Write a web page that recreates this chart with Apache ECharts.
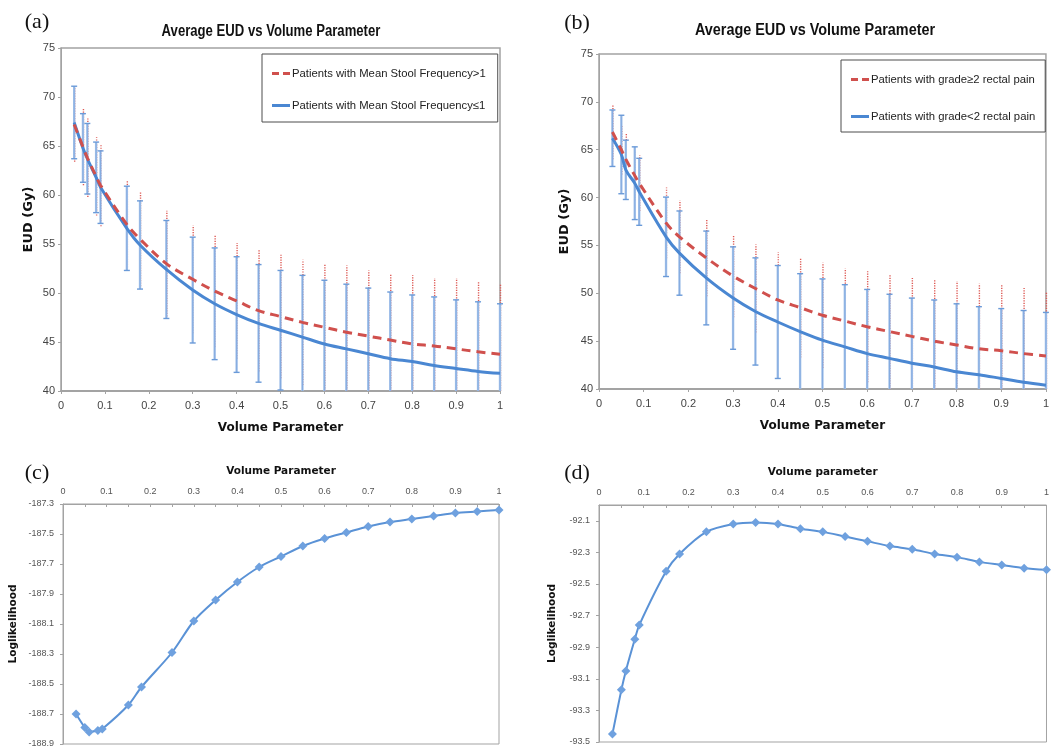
<!DOCTYPE html>
<html>
<head>
<meta charset="utf-8">
<script src="https://cdn.jsdelivr.net/npm/echarts@6/dist/echarts.min.js"></script>
<style>
  html, body { margin: 0; padding: 0; background: #fff; overflow: hidden; }
  #chart { width: 1052px; height: 749px; }
</style>
</head>
<body>
<div id="chart"></div>
<script>
// Volume parameter values (n) used for every curve
const volumeParam = [0.03, 0.05, 0.06, 0.08, 0.09, 0.15, 0.18, 0.24, 0.3, 0.35, 0.4, 0.45, 0.5, 0.55, 0.6, 0.65, 0.7, 0.75, 0.8, 0.85, 0.9, 0.95, 1.0];
const volumeParamC = [0.03, 0.05, 0.06, 0.08, 0.09, 0.15, 0.18, 0.25, 0.3, 0.35, 0.4, 0.45, 0.5, 0.55, 0.6, 0.65, 0.7, 0.75, 0.8, 0.85, 0.9, 0.95, 1.0];

// (a) mean stool frequency groups: average EUD (Gy) and standard deviation
const eudStoolHigh   = [67.2, 64.9, 63.8, 61.9, 61.0, 57.0, 55.5, 53.0, 51.4, 50.2, 49.2, 48.2, 47.6, 47.0, 46.5, 46.0, 45.6, 45.2, 44.8, 44.6, 44.3, 44.0, 43.75];
const sdStoolHigh    = [3.8, 3.9, 4.0, 4.0, 4.2, 4.4, 4.8, 5.4, 5.5, 5.7, 5.9, 6.2, 6.3, 6.4, 6.5, 6.8, 6.7, 6.8, 7.0, 6.9, 7.2, 7.2, 7.2];
const eudStoolLow    = [67.4, 64.8, 63.7, 61.8, 60.8, 56.6, 54.9, 52.4, 50.3, 48.9, 47.8, 46.9, 46.2, 45.5, 44.8, 44.3, 43.8, 43.3, 43.0, 42.6, 42.3, 42.0, 41.8];
const sdStoolLow     = [3.7, 3.5, 3.6, 3.6, 3.7, 4.3, 4.5, 5.0, 5.4, 5.7, 5.9, 6.0, 6.1, 6.3, 6.5, 6.6, 6.7, 6.8, 6.8, 7.0, 7.0, 7.1, 7.1];

// (b) rectal pain groups: average EUD (Gy) and standard deviation
const eudPainHigh    = [66.85, 65.0, 64.0, 62.3, 61.5, 57.35, 55.9, 53.7, 51.8, 50.5, 49.3, 48.5, 47.7, 47.1, 46.5, 46.0, 45.5, 45.0, 44.6, 44.2, 44.0, 43.7, 43.45];
const sdPainHigh     = [2.85, 2.6, 2.7, 2.6, 2.9, 3.7, 3.8, 4.0, 4.3, 4.6, 5.0, 5.2, 5.5, 5.5, 5.8, 6.0, 6.1, 6.5, 6.65, 6.8, 6.9, 6.85, 6.65];
const eudPainLow     = [66.2, 64.5, 62.9, 61.5, 60.6, 55.9, 54.2, 51.6, 49.5, 48.1, 47.0, 46.0, 45.1, 44.4, 43.7, 43.2, 42.7, 42.3, 41.8, 41.5, 41.1, 40.7, 40.4];
const sdPainLow      = [2.95, 4.1, 3.1, 3.8, 3.5, 4.15, 4.4, 4.9, 5.35, 5.6, 5.9, 6.05, 6.4, 6.5, 6.7, 6.7, 6.8, 7.0, 7.1, 7.1, 7.3, 7.5, 7.6];

// (c), (d) log-likelihood of the fitted model against the volume parameter
const logLikStool    = [-188.70, -188.79, -188.82, -188.81, -188.80, -188.64, -188.52, -188.29, -188.08, -187.94, -187.82, -187.72, -187.65, -187.58, -187.53, -187.49, -187.45, -187.42, -187.40, -187.38, -187.36, -187.35, -187.34];
const logLikPain     = [-93.45, -93.17, -93.05, -92.85, -92.76, -92.42, -92.31, -92.17, -92.12, -92.11, -92.12, -92.15, -92.17, -92.20, -92.23, -92.26, -92.28, -92.31, -92.33, -92.36, -92.38, -92.40, -92.41];

const nameStoolHigh = 'Patients with Mean Stool Frequency>1';
const nameStoolLow  = 'Patients with Mean Stool Frequency\u22641';
const namePainHigh  = 'Patients with grade\u22652 rectal pain';
const namePainLow   = 'Patients with grade<2 rectal pain';

const EUD_MIN = 40, EUD_MAX = 75;
const RED = '#d0504d', BLUE = '#4a87d2';
const SANS = '"Liberation Sans", Arial, sans-serif';
const BOLD_NAME = '"DejaVu Sans", Verdana, sans-serif';
const DASH_ICON = 'path://M0,0H7V3H0Z M11,0H18V3H11Z';
const SOLID_ICON = 'path://M0,0H18V3H0Z';

const fmt1 = v => String(+v.toFixed(2));

function errorBars(gi, xs, means, sds, red) {
  return {
    type: 'custom', xAxisIndex: gi, yAxisIndex: gi, silent: true, z: red ? 2 : 3,
    data: xs.map((x, i) => [x, means[i] - sds[i], means[i] + sds[i]]),
    renderItem(params, api) {
      const x = api.value(0);
      const loRaw = api.value(1), hiRaw = api.value(2);
      const lo = Math.max(loRaw, EUD_MIN), hi = Math.min(hiRaw, EUD_MAX);
      const pLo = api.coord([x, lo]), pHi = api.coord([x, hi]);
      if (red) {
        return {
          type: 'line',
          shape: { x1: pLo[0] + 0.5, y1: pLo[1], x2: pHi[0] + 0.5, y2: pHi[1] },
          style: { stroke: '#dd5a55', lineWidth: 1.4, lineDash: [1.2, 1.3] }
        };
      }
      const children = [{
        type: 'line',
        shape: { x1: pLo[0], y1: pLo[1], x2: pHi[0], y2: pHi[1] },
        style: { stroke: '#a6c3ea', lineWidth: 2.4 }
      }, {
        type: 'line',
        shape: { x1: pLo[0], y1: pLo[1], x2: pHi[0], y2: pHi[1] },
        style: { stroke: '#7ba5dd', lineWidth: 0.8 }
      }, {
        type: 'line',
        shape: { x1: pHi[0] - 3, y1: pHi[1], x2: pHi[0] + 3, y2: pHi[1] },
        style: { stroke: '#6a9ad8', lineWidth: 1.4 }
      }];
      if (loRaw >= EUD_MIN) {
        children.push({
          type: 'line',
          shape: { x1: pLo[0] - 3, y1: pLo[1], x2: pLo[0] + 3, y2: pLo[1] },
          style: { stroke: '#6a9ad8', lineWidth: 1.4 }
        });
      }
      return { type: 'group', children };
    }
  };
}

function curve(gi, name, xs, ys, red) {
  return {
    type: 'line', name, xAxisIndex: gi, yAxisIndex: gi, z: red ? 5 : 4,
    data: xs.map((x, i) => [x, ys[i]]),
    smooth: 0.35, symbol: 'none', silent: true,
    lineStyle: { color: red ? RED : BLUE, width: 3, type: red ? [9, 6] : 'solid' },
    itemStyle: { color: red ? RED : BLUE }
  };
}

function likCurve(gi, xs, ys) {
  return {
    type: 'line', xAxisIndex: gi, yAxisIndex: gi,
    data: xs.map((x, i) => [x, ys[i]]),
    smooth: 0.3, symbol: 'diamond', symbolSize: 9, silent: true,
    lineStyle: { color: '#5a92d6', width: 2 },
    itemStyle: { color: '#6fa1df' }
  };
}

const grayAxis = { show: true, lineStyle: { color: '#a3a3a3', width: 1 } };

function eudX(gi) {
  return {
    type: 'value', gridIndex: gi, min: 0, max: 1, interval: 0.1,
    axisLine: { show: true, lineStyle: { color: '#a3a3a3', width: 2 } },
    axisTick: { show: true, length: 3, lineStyle: { color: '#a3a3a3' } },
    axisLabel: { color: '#444', fontSize: 11, fontFamily: SANS, margin: 9, formatter: fmt1 },
    splitLine: { show: false },
    name: 'Volume Parameter', nameLocation: 'middle', nameGap: 31,
    nameTextStyle: { fontFamily: BOLD_NAME, fontWeight: 'bold', fontSize: 12, color: '#111' }
  };
}
function eudY(gi, gap) {
  return {
    type: 'value', gridIndex: gi, min: EUD_MIN, max: EUD_MAX, interval: 5,
    axisLine: grayAxis,
    axisTick: { show: true, length: 3, lineStyle: { color: '#a3a3a3' } },
    axisLabel: { color: '#444', fontSize: 11, fontFamily: SANS, margin: 6 },
    splitLine: { show: false },
    name: 'EUD (Gy)', nameLocation: 'middle', nameGap: gap, nameRotate: 90,
    nameTextStyle: { fontFamily: BOLD_NAME, fontWeight: 'bold', fontSize: 13, color: '#111' }
  };
}
function likX(gi, name) {
  return {
    type: 'value', gridIndex: gi, position: 'top', min: 0, max: 1, interval: 0.05,
    axisLine: grayAxis,
    axisTick: { show: true, inside: true, length: 3, lineStyle: { color: '#a3a3a3' } },
    axisLabel: {
      color: '#555', fontSize: 9, fontFamily: SANS, margin: 8,
      formatter: v => (Math.round(v * 100) % 10 === 0 ? fmt1(v) : '')
    },
    splitLine: { show: false },
    name, nameLocation: 'middle', nameGap: 27,
    nameTextStyle: { fontFamily: BOLD_NAME, fontWeight: 'bold', fontSize: 10.5, color: '#111' }
  };
}
function likY(gi, min, max, gap) {
  return {
    type: 'value', gridIndex: gi, min, max, interval: 0.2,
    axisLine: grayAxis,
    axisTick: { show: true, length: 3, lineStyle: { color: '#a3a3a3' } },
    axisLabel: { color: '#555', fontSize: 9, fontFamily: SANS, margin: 9, showMaxLabel: max === -187.3, formatter: v => v.toFixed(1) },
    splitLine: { show: false },
    name: 'Loglikelihood', nameLocation: 'middle', nameGap: gap, nameRotate: 90,
    nameTextStyle: { fontFamily: BOLD_NAME, fontWeight: 'bold', fontSize: 10.5, color: '#111' }
  };
}

function legendBox(left, top, names, gap, pad) {
  return {
    data: [{ name: names[0], icon: DASH_ICON }, { name: names[1], icon: SOLID_ICON }],
    orient: 'vertical', left, top, itemGap: gap, padding: pad,
    itemWidth: 18, itemHeight: 3, borderColor: '#4d4d4d', borderWidth: 1,
    selectedMode: false,
    textStyle: { fontFamily: SANS, fontSize: 11.3, color: '#222', padding: [0, 0, 0, -3] }
  };
}

function label(text, x, y, font, sx) {
  return {
    type: 'text', x, y, scaleX: sx || 1,
    style: { text, font, fill: '#111', align: 'center', verticalAlign: 'middle' }
  };
}

const chart = echarts.init(document.getElementById('chart'), null, { renderer: 'canvas' });
chart.setOption({
  backgroundColor: '#fff',
  animation: false,
  grid: [
    { left: 61, top: 48, width: 439, height: 343, show: true, borderColor: '#a3a3a3', borderWidth: 1.5, backgroundColor: 'transparent' },
    { left: 599, top: 54, width: 453, height: 335, show: true, borderColor: '#a3a3a3', borderWidth: 1.5, backgroundColor: 'transparent' },
    { left: 63, top: 504, width: 436, height: 240, show: true, borderColor: '#a3a3a3', borderWidth: 1, backgroundColor: 'transparent' },
    { left: 599, top: 505, width: 452, height: 237, show: true, borderColor: '#a3a3a3', borderWidth: 1, backgroundColor: 'transparent' }
  ],
  xAxis: [eudX(0), eudX(1), likX(2, 'Volume Parameter'), likX(3, 'Volume parameter')],
  yAxis: [eudY(0, 26), eudY(1, 28), likY(2, -188.9, -187.3, 44), likY(3, -93.5, -92.0, 41)],
  legend: [
    legendBox(262, 54, [nameStoolHigh, nameStoolLow], 21, [14, 12, 11, 10]),
    legendBox(841, 60, [namePainHigh, namePainLow], 26, [14, 10, 10, 10])
  ],
  graphic: [
    label('(a)', 37, 22, '22px "Liberation Serif", "Times New Roman", serif'),
    label('(b)', 577, 23, '22px "Liberation Serif", "Times New Roman", serif'),
    label('(c)', 37, 473, '22px "Liberation Serif", "Times New Roman", serif'),
    label('(d)', 577, 473, '22px "Liberation Serif", "Times New Roman", serif'),
    label('Average EUD vs Volume Parameter', 271, 32, 'bold 16px ' + SANS, 0.82),
    label('Average EUD vs Volume Parameter', 815, 31, 'bold 16px ' + SANS, 0.9)
  ],
  series: [
    errorBars(0, volumeParam, eudStoolHigh, sdStoolHigh, true),
    errorBars(0, volumeParam, eudStoolLow, sdStoolLow, false),
    curve(0, nameStoolHigh, volumeParam, eudStoolHigh, true),
    curve(0, nameStoolLow, volumeParam, eudStoolLow, false),
    errorBars(1, volumeParam, eudPainHigh, sdPainHigh, true),
    errorBars(1, volumeParam, eudPainLow, sdPainLow, false),
    curve(1, namePainHigh, volumeParam, eudPainHigh, true),
    curve(1, namePainLow, volumeParam, eudPainLow, false),
    likCurve(2, volumeParamC, logLikStool),
    likCurve(3, volumeParam, logLikPain)
  ]
});
</script>
</body>
</html>
